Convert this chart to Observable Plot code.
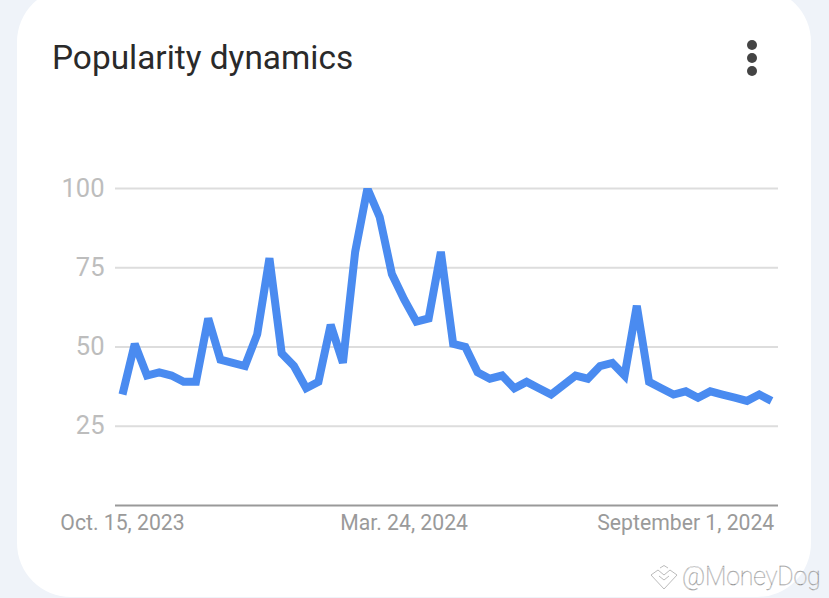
<!DOCTYPE html>
<html>
<head>
<meta charset="utf-8">
<script src="https://cdn.jsdelivr.net/npm/d3@7"></script>
<script src="https://cdn.jsdelivr.net/npm/@observablehq/plot@0.6"></script>
<style>
  html, body { margin: 0; padding: 0; background: #eff3f9; width: 829px; height: 598px; overflow: hidden; }
  #card { position: absolute; left: 17px; top: -12px; width: 794px; height: 609px; background: #fff; border-radius: 54px; }
  #wrap { position: absolute; left: 0; top: 0; width: 829px; }
  #title { height: 110px; box-sizing: border-box; padding: 38px 0 0 52px; font: 400 33.4px/40px Roboto, sans-serif; color: #2a2a2a; }
  #dots { position: absolute; left: 747px; top: 40px; }
  #dots i { display: block; width: 10px; height: 10px; border-radius: 50%; background: #444; margin-bottom: 3px; }
  #mark { position: absolute; left: 682px; top: 561px; font: 100 25px/32px Roboto, sans-serif; color: rgba(255,255,255,.8); -webkit-text-stroke: .35px #8f8f8f; white-space: nowrap; letter-spacing: -.2px; }
  #icon { position: absolute; left: 650px; top: 565px; }
  svg { display: block; }
</style>
</head>
<body>
<div id="card"></div>
<div id="wrap">
  <div id="title">Popularity dynamics</div>
  <div id="chart"></div>
</div>
<div id="dots"><i></i><i></i><i></i></div>
<svg id="icon" width="28" height="26" viewBox="0 0 28 26" fill="none" stroke="#aaa" stroke-width="0.8">
  <path d="M1 10 L8 5 L14 10 L20 5 L27 10 L14 24 Z"/>
  <path d="M9 11 L14 15 L19 11"/>
  <path d="M10 3 L14 0.5 L18 3"/>
</svg>
<div id="mark">@MoneyDog</div>
<script>
const startDate = "2023-10-15";
const values = [35,51,41,42,41,39,39,59,46,45,44,54,78,48,44,37,39,57,45,80,100,91,73,65,58,59,80,51,50,42,40,41,37,39,37,35,38,41,40,44,45,41,63,39,37,35,36,34,36,35,34,33,35,33];
const yTicks = [25,50,75,100];
const xTickDates = ["2023-10-15","2024-03-24","2024-09-01"];
const xTickLabels = ["Oct. 15, 2023","Mar. 24, 2024","September 1, 2024"];

const start = new Date(startDate + "T00:00:00Z");
const rows = values.map((v, i) => ({date: d3.utcDay.offset(start, i * 7), value: v}));
const tickDates = xTickDates.map(d => new Date(d + "T00:00:00Z"));
const labelFor = new Map(tickDates.map((d, i) => [+d, xTickLabels[i]]));

const chart = Plot.plot({
  width: 829,
  height: 460,
  marginLeft: 115,
  marginRight: 51,
  marginTop: 78,
  marginBottom: 65,
  style: {background: "transparent", fontFamily: "Roboto, sans-serif"},
  x: {domain: [d3.utcDay.offset(start, -4), d3.utcDay.offset(rows[rows.length - 1].date, 4)]},
  y: {domain: [0, 100]},
  marks: [
    Plot.ruleY(yTicks, {stroke: "#dddddd", strokeWidth: 2}),
    Plot.ruleY([0], {stroke: "#999", strokeWidth: 2}),
    Plot.axisY({ticks: yTicks, tickSize: 0, tickPadding: 11, label: null, fontSize: 25.5, stroke: "none", fill: "#bdbdbd"}),
    Plot.axisX({ticks: tickDates, tickSize: 0, tickPadding: 9, label: null, fontSize: 21.2, fill: "#9a9a9a", tickFormat: d => labelFor.get(+d)}),
    Plot.line(rows, {x: "date", y: "value", stroke: "#4a8bf0", strokeWidth: 8, strokeLinejoin: "miter", strokeLinecap: "butt", strokeMiterlimit: 3, clip: "frame"})
  ]
});
document.getElementById("chart").appendChild(chart);
</script>
</body>
</html>
